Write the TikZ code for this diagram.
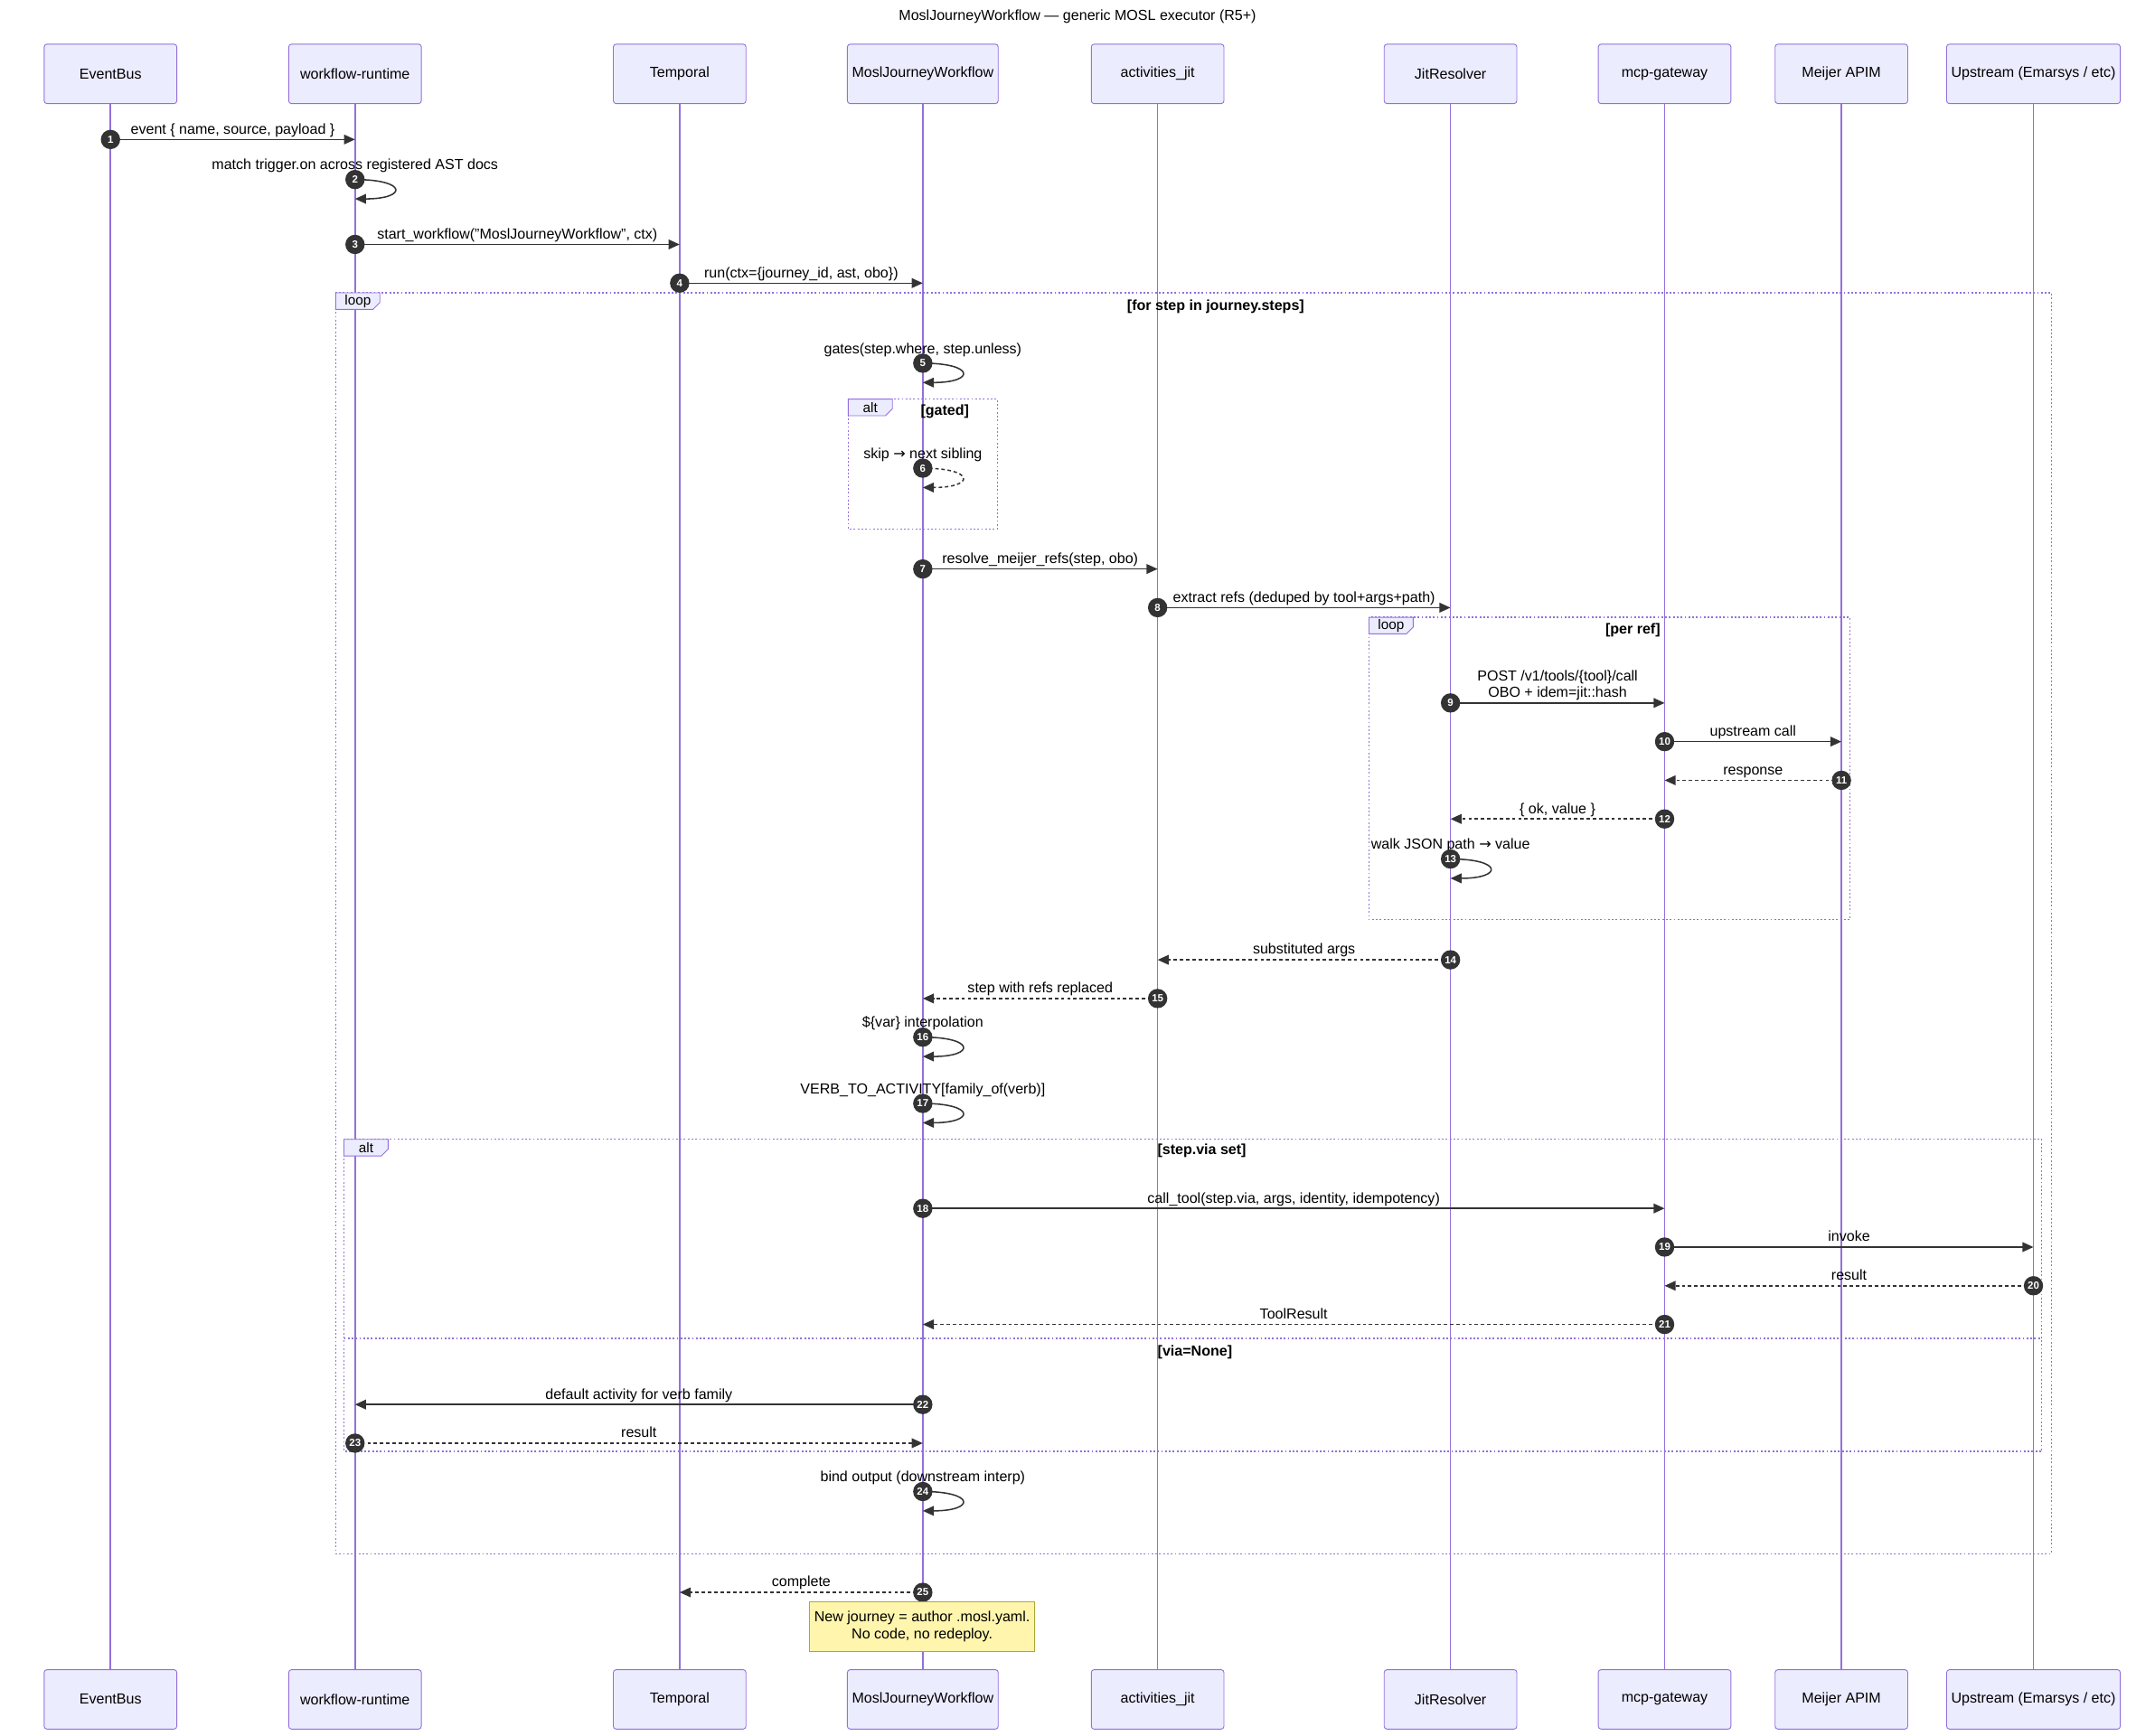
\documentclass[tikz,border=0pt]{standalone}
\usepackage{fontspec}
\setmainfont{Liberation Sans}
\newfontfamily\symf{DejaVu Sans}
\usetikzlibrary{arrows.meta}
\definecolor{lf}{HTML}{9370DB}
\definecolor{bf}{HTML}{ECECFF}
\definecolor{nf}{HTML}{FFF5AD}
\definecolor{nb}{HTML}{AAAA33}
\definecolor{ink}{HTML}{333333}
\newcommand\ar{{\symf\char"2192}}
\newcommand\msg[6]{%
  \coordinate (t#1) at (#3,-#4);
  \draw[#5] (#2,-#4) -- (t#1);
  \node[lbl] (l#1) at ({(#2+#3)/2},-#4+4) {#6};
  \node[circ] (n#1) at (#2,-#4) {#1};}
\newcommand\self[5]{%
  \coordinate (t#1) at (#2,-#3-14);
  \node[lbl] (l#1) at (#2,-#3+7) {#5};
  \draw[#4] (#2,-#3) .. controls (#2+38,-#3) and (#2+38,-#3-14) .. (t#1);
  \node[circ] (n#1) at (#2,-#3) {#1};}
\newcommand\frm[7]{% name x1 y1 x2 y2 kind label-x
  \draw[frame] (#2,-#3) rectangle (#4,-#5);
  \path[draw=lf,fill=bf,line width=0.6pt] (#2,-#3) -- (#2+32,-#3) -- (#2+32,-#3-7) -- (#2+27,-#3-12) -- (#2,-#3-12) -- cycle;
  \node[font=\fontsize{10}{12}\selectfont] (#1) at (#2+16,-#3-6) {#6};}
\tikzset{
  x=1pt,y=1pt,
  actor/.style={draw=lf,fill=bf,rounded corners=2pt,minimum width=96pt,minimum height=43pt,font=\fontsize{10.5}{12}\selectfont,line width=0.6pt},
  life/.style={draw=lf,line width=1pt},
  lbl/.style={anchor=base,font=\fontsize{10.5}{12}\selectfont,inner sep=0pt,text=black},
  sol/.style={draw=ink,line width=1pt,-{Triangle[length=8pt,width=7pt]}},
  dsh/.style={sol,dash pattern=on 2.5pt off 2pt},
  circ/.style={circle,fill=ink,text=white,inner sep=0pt,minimum size=14pt,font=\fontsize{7.5}{8}\bfseries\selectfont},
  frame/.style={draw=lf,line width=0.9pt,dash pattern=on 1.2pt off 1.6pt},
  ftxt/.style={font=\fontsize{10.5}{12}\bfseries\selectfont,anchor=base}
}
\begin{document}
\begin{tikzpicture}
\useasboundingbox (0,0) rectangle (1560,-1257);
\node[font=\fontsize{10.5}{12}\selectfont] (title) at (780,-12) {MoslJourneyWorkflow — generic MOSL executor (R5+)};
\foreach \n/\x/\t/\w in {a/80/EventBus/96,b/257/workflow-runtime/96,c/492/Temporal/96,d/668/MoslJourneyWorkflow/106,e/838/activities\_jit/96,f/1050/JitResolver/96,g/1205/mcp-gateway/96,h/1333/Meijer APIM/96,i/1472/{Upstream (Emarsys {/} etc)}/117}{
  \node[actor,minimum width=\w pt] (top\n) at (\x,-53.5) {\t};
  \node[actor,minimum width=\w pt] (bot\n) at (\x,-1230.5) {\t};
  \draw[life] (top\n) -- (bot\n);
}
% frames
\frm{f1}{243}{212}{1485}{1125}{loop}{}
\node[ftxt] at (880,-225) {[for step in journey.steps]};
\frm{f2}{614}{289}{722}{383}{alt}{}
\node[ftxt] at (684,-301) {[gated]};
\frm{f3}{991}{447}{1339}{666}{loop}{}
\node[ftxt] at (1182,-459) {[per ref]};
\frm{f4}{249}{825}{1478}{1051}{alt}{}
\node[ftxt] at (870,-836) {[step.via set]};
\draw[frame] (249,-969) -- (1478,-969);
\node[ftxt] at (865,-982) {[via=None]};
% messages
\msg{1}{80}{257}{101}{sol}{event \{ name, source, payload \}}
\self{2}{257}{130}{sol}{match trigger.on across registered AST docs}
\msg{3}{257}{492}{177}{sol}{start\_workflow("MoslJourneyWorkflow", ctx)}
\msg{4}{492}{668}{205}{sol}{run(ctx=\{journey\_id, ast, obo\})}
\self{5}{668}{263}{sol}{gates(step.where, step.unless)}
\self{6}{668}{339}{dsh}{skip \ar{} next sibling}
\msg{7}{668}{838}{412}{sol}{resolve\_meijer\_refs(step, obo)}
\msg{8}{838}{1050}{440}{sol}{extract refs (deduped by tool+args+path)}
\coordinate (t9) at (1205,-509);
\draw[sol] (1050,-509) -- (t9);
\node[lbl,align=center] (l9) at (1127.5,-505) {POST /v1/tools/\{tool\}/call\\OBO + idem=jit::hash};
\node[circ] (n9) at (1050,-509) {9};
\msg{10}{1205}{1333}{537}{sol}{upstream call}
\msg{11}{1333}{1205}{565}{dsh}{response}
\msg{12}{1205}{1050}{593}{dsh}{\{ ok, value \}}
\self{13}{1050}{622}{sol}{walk JSON path \ar{} value}
\msg{14}{1050}{838}{695}{dsh}{substituted args}
\msg{15}{838}{668}{723}{dsh}{step with refs replaced}
\self{16}{668}{751}{sol}{\$\{var\} interpolation}
\self{17}{668}{799}{sol}{VERB\_TO\_ACTIVITY[family\_of(verb)]}
\msg{18}{668}{1205}{875}{sol}{call\_tool(step.via, args, identity, idempotency)}
\msg{19}{1205}{1472}{903}{sol}{invoke}
\msg{20}{1472}{1205}{931}{dsh}{result}
\msg{21}{1205}{668}{959}{dsh}{ToolResult}
\msg{22}{668}{257}{1017}{sol}{default activity for verb family}
\msg{23}{257}{668}{1045}{dsh}{result}
\self{24}{668}{1080}{sol}{bind output (downstream interp)}
\msg{25}{668}{492}{1153}{dsh}{complete}
\node[draw=nb,fill=nf,minimum width=153pt,minimum height=36pt,align=center,font=\fontsize{10.5}{12.5}\selectfont,line width=0.6pt] (note) at (667.5,-1178) {New journey = author .mosl.yaml.\\No code, no redeploy.};
\end{tikzpicture}
\end{document}
